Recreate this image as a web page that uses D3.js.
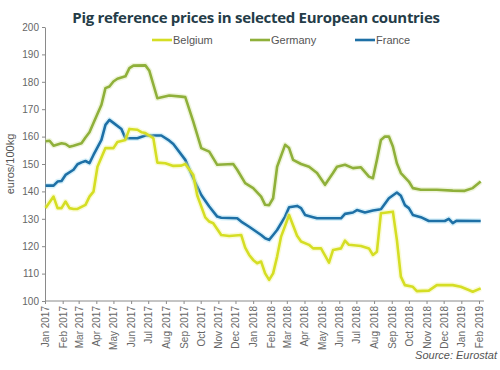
<!DOCTYPE html>
<html>
<head>
<meta charset="utf-8">
<script src="https://cdn.jsdelivr.net/npm/d3@7"></script>
<style>
  body { margin: 0; background: #fff; }
  svg { display: block; }
  .axis text { font-family: "Liberation Sans", Arial, sans-serif; font-size: 10px; fill: #666; }
  .axis path, .axis line { stroke: #8a8a8a; }
</style>
</head>
<body>
<svg id="chart" width="500" height="370"></svg>
<script>
// weeks counted from Monday 2 Jan 2017, values in euros/100kg
var belgiumWeeks = [0,2,3,4,5,6,7,8,10,11,12,13,15,17,18,20,21,23,24,25,27,28,30,32,34,35,37,38,40,41,42,44,46,49,50,51,52,53,54,55,56,57,58,59,61,63,64,66,67,69,71,72,74,75,76,79,81,82,83,84,87,88,89,90,92,93,96,98,102,104,106,107,109];
var belgiumValues = [133.9,138.1,133.9,133.9,136.3,133.9,133.6,133.6,135.1,138.1,139.9,149,155.8,155.8,158,158.8,162.8,162.5,161.6,161.3,159.4,150.5,150.3,149.3,149.4,150,146,138.5,130.5,129,128.4,124.1,123.7,124.1,119.5,116.8,115,113.8,114.4,110.1,107.7,110.1,116.2,123.5,131.4,123.8,121.7,120.5,119.2,119.2,114,118.6,119.2,122,120.5,120.1,119.2,116.8,118,132,132.6,122.3,108.9,105.8,105.2,103.6,103.8,105.8,105.8,105.2,104,103.4,104.6];

var germanyWeeks = [0,1,2,4,5,6,7,9,10,11,12,14,15,16,17,18,20,21,22,25,26,28,31,34,35,37,39,41,43,47,48,50,52,54,55,56,57,58,60,61,62,64,66,68,70,72,73,75,77,79,81,82,83,84,85,86,87,88,89,91,92,94,98,102,105,107,109];
var germanyValues = [158.3,158.5,156.7,157.6,157.3,156.3,156.7,157.6,159.7,161.6,165,171.6,177.7,178.3,180.1,181.1,182,185,185.9,186,184,174,175,174.6,174.4,165.5,155.8,154.5,149.7,150,147.9,143,141.2,138.1,135.1,135,137.5,149,157,155.8,151.5,150,149,146.7,142.4,146.7,149,149.7,148.5,148.8,145.4,144.8,151.5,158.8,160,160,156.4,150.3,146.7,143.6,141.2,140.6,140.6,140.3,140.2,141.2,143.6];

var franceWeeks = [0,2,3,4,5,7,8,9,10,11,12,14,15,16,17,19,20,23,25,29,31,32,35,37,39,41,43,44,48,49,51,54,55,56,57,58,60,61,63,64,65,67,68,74,75,77,78,80,82,84,86,88,89,90,91,92,94,96,100,101,102,103,109];
var franceValues = [142.1,142.1,143.6,143.8,146,147.9,149.9,150.6,151.1,150.3,153.3,158.8,164.3,166.1,165,162.8,159.4,159.4,160.4,160.4,158.5,157.3,151.5,144.8,138.7,134.5,130.8,130.4,130.2,129,127.1,124.1,122.9,122.3,124.1,125.9,130.8,134.2,134.7,133.9,131.4,130.6,130.2,130.2,131.8,132.3,133.2,132.3,133,133.5,137.5,139.6,138.4,135,133.9,131.4,130.6,129.2,129.2,130,128.4,129.3,129.2];

var seriesNames = ["Belgium", "Germany", "France"];
var seriesColors = ["#d5de24", "#8fb03a", "#1e70a6"];
var haloColors = ["#f3f59a", "#d6e6a8", "#9fdcf2"];
var yTicks = [100,110,120,130,140,150,160,170,180,190,200];

var svg = d3.select("#chart");
var start = new Date(2017, 0, 2);
function weekDate(w) { return d3.timeDay.offset(start, w * 7); }

var x = d3.scaleTime()
    .domain([new Date(2017, 0, 1), new Date(2019, 1, 1)])
    .range([45, 479]);
var y = d3.scaleLinear().domain([100, 200]).range([301, 27]);

// y axis
var yAxis = svg.append("g").attr("class", "axis")
    .attr("transform", "translate(45,0)")
    .call(d3.axisLeft(y).tickValues(yTicks).tickSize(3).tickPadding(3).tickSizeOuter(0));

// x axis
var xAxis = svg.append("g").attr("class", "axis")
    .attr("transform", "translate(0,301)")
    .call(d3.axisBottom(x).ticks(d3.timeMonth.every(1)).tickFormat(d3.timeFormat("%b %Y"))
          .tickSize(3).tickSizeOuter(0));
xAxis.select(".domain").attr("d", "M45,0H484");
xAxis.selectAll("text")
    .attr("transform", "rotate(-90)")
    .attr("text-anchor", "end")
    .attr("x", -5).attr("y", 0).attr("dy", "0.35em");

svg.append("text")
    .attr("transform", "translate(14,164) rotate(-90)")
    .attr("text-anchor", "middle")
    .style("font-family", "'Liberation Sans', Arial, sans-serif")
    .style("font-size", "11px").style("fill", "#555")
    .text("euros/100kg");

var line = d3.line()
    .x(function(d) { return x(weekDate(d[0])); })
    .y(function(d) { return y(d[1]); });

var allWeeks = [belgiumWeeks, germanyWeeks, franceWeeks];
var allValues = [belgiumValues, germanyValues, franceValues];

// draw Germany first, then France, Belgium on top where they cross
[1, 2, 0].forEach(function(i) {
    var pts = d3.zip(allWeeks[i], allValues[i]);
    svg.append("path").datum(pts)
        .attr("d", line).attr("fill", "none")
        .attr("stroke", haloColors[i]).attr("stroke-width", 5.5)
        .attr("stroke-opacity", 0.4).attr("stroke-linejoin", "round");
    svg.append("path").datum(pts)
        .attr("d", line).attr("fill", "none")
        .attr("stroke", seriesColors[i]).attr("stroke-width", 2.6)
        .attr("stroke-linejoin", "round");
});

// title
svg.append("text")
    .attr("x", 256).attr("y", 23)
    .attr("text-anchor", "middle")
    .style("font-family", "'Open Sans', sans-serif")
    .style("font-weight", "bold").style("font-size", "15px")
    .style("letter-spacing", "-0.3px")
    .style("fill", "#243c48")
    .text("Pig reference prices in selected European countries");

// legend
var legendX = [152, 250, 355];
seriesNames.forEach(function(name, i) {
    var g = svg.append("g").attr("transform", "translate(" + legendX[i] + ",40)");
    g.append("line").attr("x1", 0).attr("x2", 20).attr("y1", 0).attr("y2", 0)
        .attr("stroke", seriesColors[i]).attr("stroke-width", 2.6);
    g.append("text").attr("x", 21).attr("y", 0).attr("dy", "0.35em")
        .style("font-family", "'Liberation Sans', Arial, sans-serif")
        .style("font-size", "11px").style("fill", "#555")
        .text(name);
});

svg.append("text")
    .attr("x", 497).attr("y", 359)
    .attr("text-anchor", "end")
    .style("font-family", "'Liberation Sans', Arial, sans-serif")
    .style("font-size", "11px").style("font-style", "italic").style("fill", "#555")
    .text("Source: Eurostat");
</script>
</body>
</html>
